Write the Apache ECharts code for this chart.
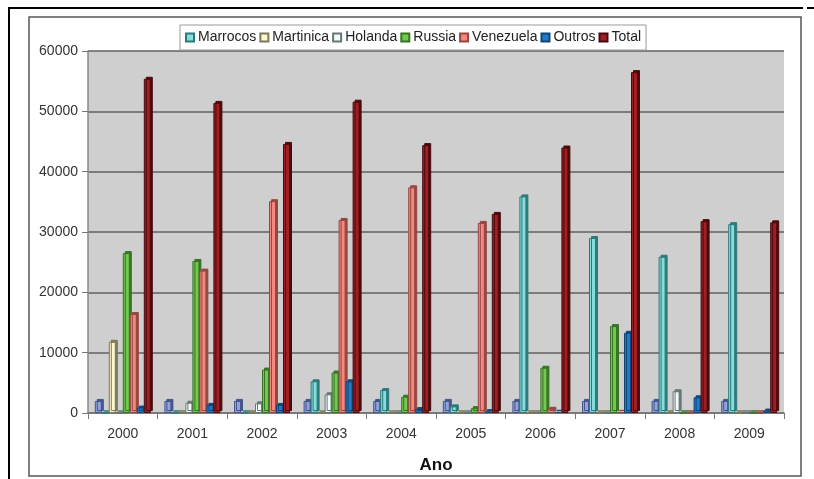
<!DOCTYPE html>
<html>
<head>
<meta charset="utf-8">
<script src="https://cdn.jsdelivr.net/npm/echarts@6/dist/echarts.min.js"></script>
<style>html,body{margin:0;padding:0;background:#fff;}#c{width:814px;height:479px;}</style>
</head>
<body>
<div id="c"></div>
<script>
const categories = ['2000','2001','2002','2003','2004','2005','2006','2007','2008','2009'];
const yTicks = [0,10000,20000,30000,40000,50000,60000];
const ano       = [2000,2001,2002,2003,2004,2005,2006,2007,2008,2009];
const marrocos  = [0,0,0,5250,3800,1100,35900,29000,25900,31300];
const martinica = [11800,0,0,0,0,0,0,0,0,0];
const holanda   = [0,1700,1600,3100,0,0,0,0,3600,0];
const russia    = [26500,25200,7200,6700,2700,800,7500,14400,0,0];
const venezuela = [16400,23600,35100,32000,37400,31500,700,200,0,0];
const outros    = [900,1350,1350,5250,650,300,200,13300,2600,400];
const total     = [55400,51400,44600,51600,44400,33000,44000,56500,31800,31600];
const legendNames = ['Marrocos','Martinica','Holanda','Russia','Venezuela','Outros','Total'];

const seriesDefs = [
  ['Ano', ano, '#8fa3dc', '#46558a'],
  ['Marrocos', marrocos, '#88dcdc', '#2c7a7a'],
  ['Martinica', martinica, '#fcf7cf', '#7d7858'],
  ['Holanda', holanda, '#f4f9f9', '#667777'],
  ['Russia', russia, '#74c852', '#377424'],
  ['Venezuela', venezuela, '#f4887f', '#954741'],
  ['Outros', outros, '#2279c6', '#11467a'],
  ['Total', total, '#9e1f24', '#4a0b0e']
];

const chart = echarts.init(document.getElementById('c'), null, {renderer:'canvas'});
chart.setOption({
  animation: false,
  backgroundColor: '#ffffff',
  textStyle: {fontFamily: 'Liberation Sans, Arial, sans-serif'},
  graphic: [
    {type:'line', shape:{x1:8,y1:8,x2:803,y2:8}, style:{stroke:'#000',lineWidth:2}, z:100},
    {type:'line', shape:{x1:807,y1:8,x2:814,y2:8}, style:{stroke:'#000',lineWidth:2}, z:100},
    {type:'line', shape:{x1:9,y1:8,x2:9,y2:479}, style:{stroke:'#000',lineWidth:2}, z:100},
    {type:'rect', shape:{x:29,y:17,width:772,height:459}, style:{fill:null,stroke:'#555',lineWidth:1.5}, z:100}
  ],
  legend: {
    data: legendNames,
    left: 180, top: 25,
    padding: [5,5],
    itemWidth: 8, itemHeight: 8, itemGap: 3,
    icon: 'rect',
    backgroundColor: '#fff',
    borderColor: '#999', borderWidth: 1,
    textStyle: {fontSize: 14, color: '#222', lineHeight: 15, padding:[0,0,0,-1]}
  },
  grid: {left: 88, right: 30, top: 51, bottom: 59, show: true, backgroundColor: '#cfcfcf', borderWidth: 0},
  xAxis: {
    type: 'category',
    data: categories,
    name: 'Ano',
    nameLocation: 'middle',
    nameGap: 44,
    nameTextStyle: {fontSize: 17, fontWeight: 'bold', color: '#111'},
    axisLine: {lineStyle: {color: '#777', width: 1.5}},
    axisTick: {show: true, length: 6, lineStyle: {color: '#777'}},
    axisLabel: {fontSize: 14, color: '#333', margin: 14}
  },
  yAxis: {
    type: 'value',
    min: yTicks[0], max: yTicks[yTicks.length-1], interval: 10000,
    axisLine: {show: true, lineStyle: {color: '#888', width: 1.5}},
    axisTick: {show: true, length: 6, lineStyle: {color: '#777'}},
    axisLabel: {fontSize: 14, color: '#333', margin: 10, formatter: v => String(v)},
    splitLine: {lineStyle: {color: '#606060', width: 1.5}}
  },
  series: seriesDefs.map(d => ({
    name: d[0],
    type: 'bar',
    data: d[1],
    barWidth: 7,
    barGap: '0%',
    barCategoryGap: '18%',
    itemStyle: {
      color: d[2],
      borderColor: d[3],
      borderWidth: 1,
      shadowColor: d[3],
      shadowOffsetX: 2,
      shadowOffsetY: -2,
      shadowBlur: 0
    }
  }))
});
</script>
</body>
</html>
